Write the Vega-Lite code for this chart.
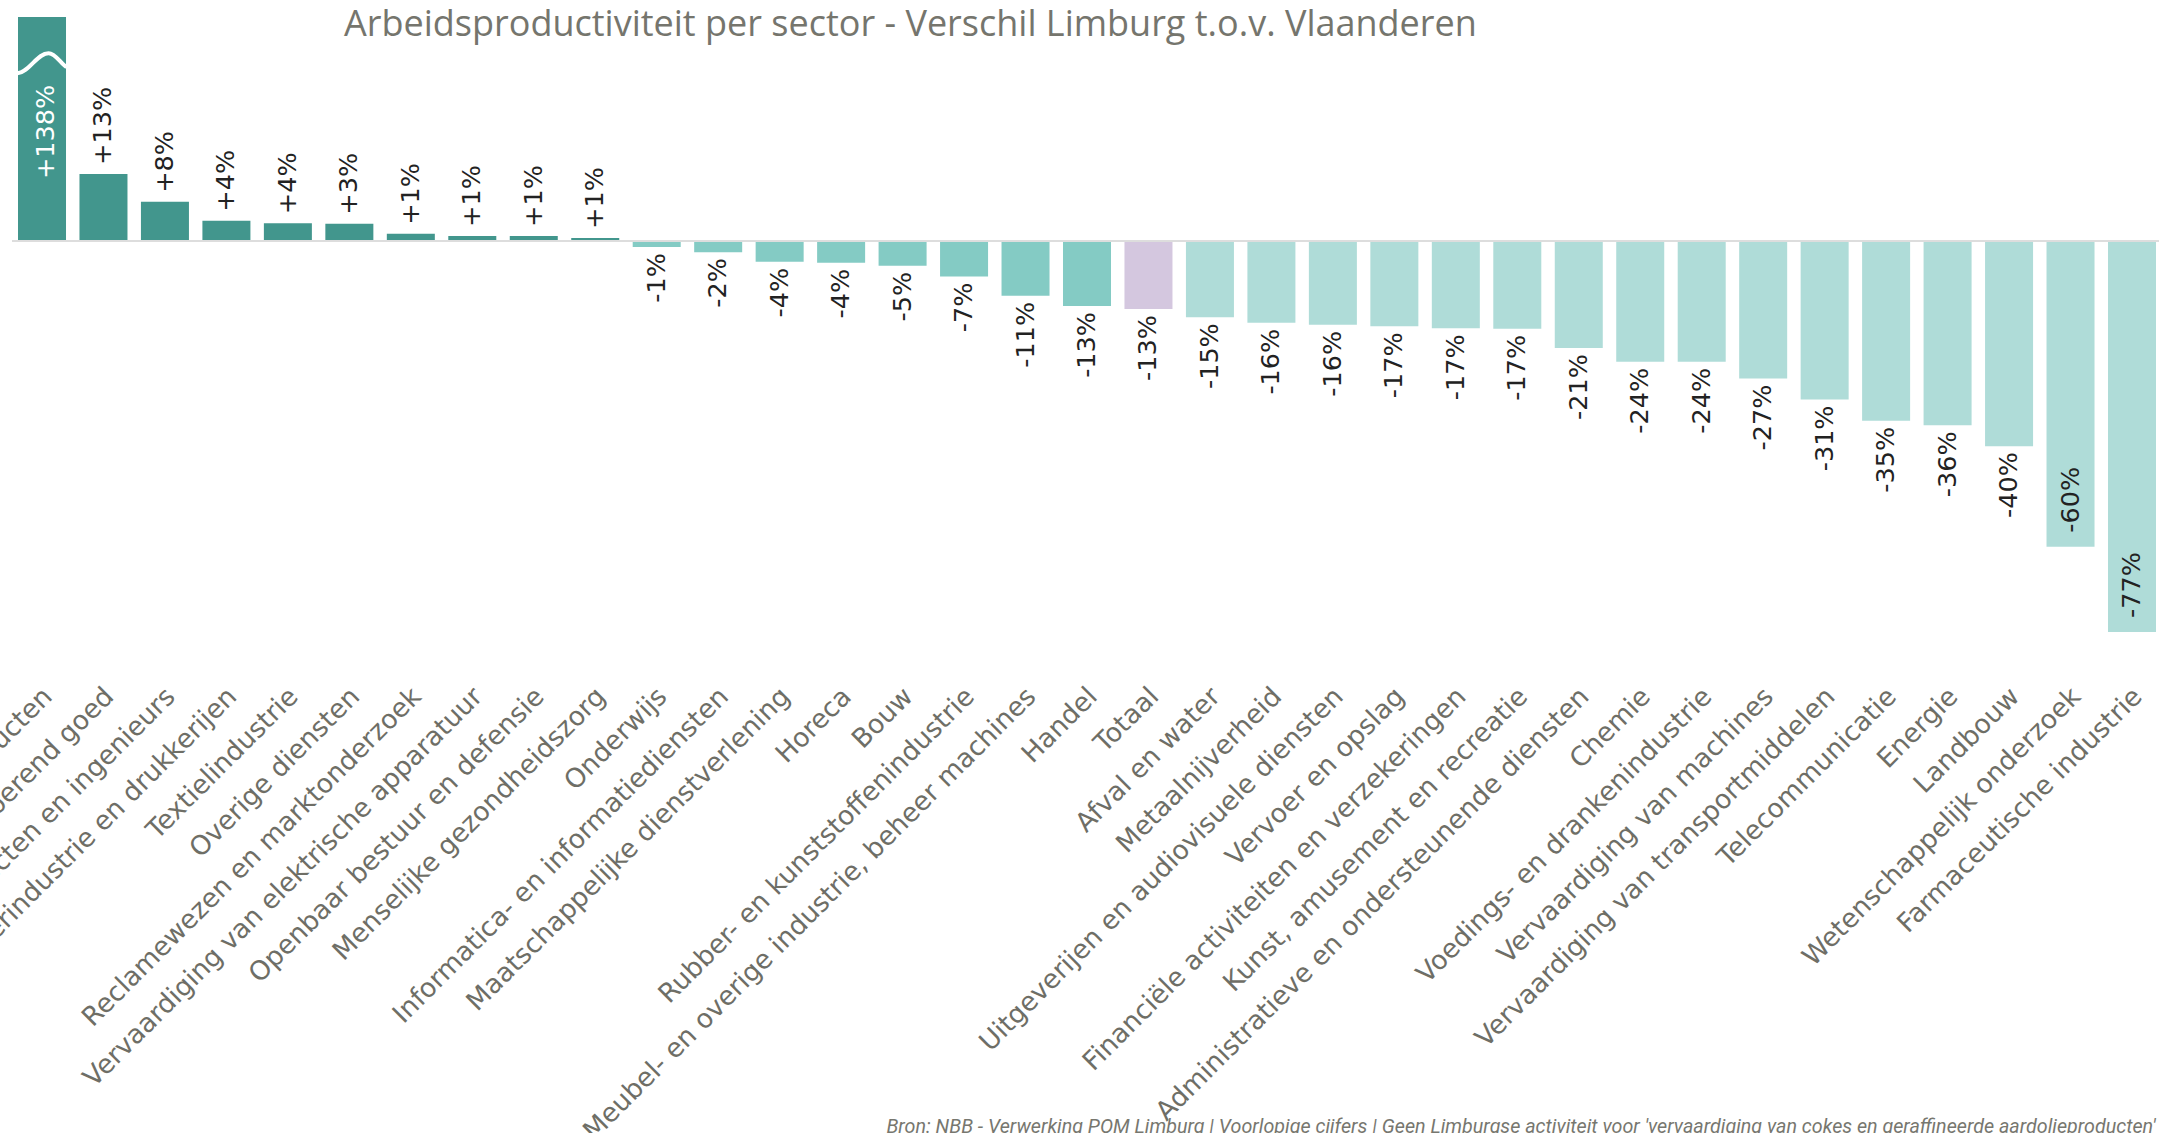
{
  "$schema": "https://vega.github.io/schema/vega-lite/v6.json",
  "width": 2150,
  "height": 615,
  "autosize": {"type": "none"},
  "padding": {"left": 12, "top": 17, "right": 0, "bottom": 501},
  "background": "white",
  "config": {"view": {"stroke": null}},
  "title": {
    "text": "Arbeidsproductiviteit per sector - Verschil Limburg t.o.v. Vlaanderen",
    "anchor": "start",
    "frame": "group",
    "dx": 332,
    "offset": -27,
    "font": "Open Sans",
    "fontSize": 36,
    "fontWeight": "normal",
    "color": "#75756d"
  },
  "data": {
    "values": [
      {"sector": "Niet-metaalhoudende minerale producten", "value": 138, "label": "+138%", "groep": "hoger"},
      {"sector": "Exploitatie van en handel in onroerend goed", "value": 13.2, "label": "+13%", "groep": "hoger"},
      {"sector": "Architecten en ingenieurs", "value": 7.7, "label": "+8%", "groep": "hoger"},
      {"sector": "Papierindustrie en drukkerijen", "value": 4.0, "label": "+4%", "groep": "hoger"},
      {"sector": "Textielindustrie", "value": 3.5, "label": "+4%", "groep": "hoger"},
      {"sector": "Overige diensten", "value": 3.4, "label": "+3%", "groep": "hoger"},
      {"sector": "Reclamewezen en marktonderzoek", "value": 1.4, "label": "+1%", "groep": "hoger"},
      {"sector": "Vervaardiging van elektrische apparatuur", "value": 1.0, "label": "+1%", "groep": "hoger"},
      {"sector": "Openbaar bestuur en defensie", "value": 1.0, "label": "+1%", "groep": "hoger"},
      {"sector": "Menselijke gezondheidszorg", "value": 0.6, "label": "+1%", "groep": "hoger"},
      {"sector": "Onderwijs", "value": -1.2, "label": "-1%", "groep": "lager"},
      {"sector": "Informatica- en informatiediensten", "value": -2.2, "label": "-2%", "groep": "lager"},
      {"sector": "Maatschappelijke dienstverlening", "value": -4.1, "label": "-4%", "groep": "lager"},
      {"sector": "Horeca", "value": -4.3, "label": "-4%", "groep": "lager"},
      {"sector": "Bouw", "value": -4.9, "label": "-5%", "groep": "lager"},
      {"sector": "Rubber- en kunststoffenindustrie", "value": -7.0, "label": "-7%", "groep": "lager"},
      {"sector": "Meubel- en overige industrie, beheer machines", "value": -10.8, "label": "-11%", "groep": "lager"},
      {"sector": "Handel", "value": -12.8, "label": "-13%", "groep": "lager"},
      {"sector": "Totaal", "value": -13.4, "label": "-13%", "groep": "totaal"},
      {"sector": "Afval en water", "value": -15.0, "label": "-15%", "groep": "veel lager"},
      {"sector": "Metaalnijverheid", "value": -16.1, "label": "-16%", "groep": "veel lager"},
      {"sector": "Uitgeverijen en audiovisuele diensten", "value": -16.5, "label": "-16%", "groep": "veel lager"},
      {"sector": "Vervoer en opslag", "value": -16.8, "label": "-17%", "groep": "veel lager"},
      {"sector": "Financiële activiteiten en verzekeringen", "value": -17.2, "label": "-17%", "groep": "veel lager"},
      {"sector": "Kunst, amusement en recreatie", "value": -17.3, "label": "-17%", "groep": "veel lager"},
      {"sector": "Administratieve en ondersteunende diensten", "value": -21.1, "label": "-21%", "groep": "veel lager"},
      {"sector": "Chemie", "value": -23.8, "label": "-24%", "groep": "veel lager"},
      {"sector": "Voedings- en drankenindustrie", "value": -23.8, "label": "-24%", "groep": "veel lager"},
      {"sector": "Vervaardiging van machines", "value": -27.1, "label": "-27%", "groep": "veel lager"},
      {"sector": "Vervaardiging van transportmiddelen", "value": -31.2, "label": "-31%", "groep": "veel lager"},
      {"sector": "Telecommunicatie", "value": -35.4, "label": "-35%", "groep": "veel lager"},
      {"sector": "Energie", "value": -36.3, "label": "-36%", "groep": "veel lager"},
      {"sector": "Landbouw", "value": -40.4, "label": "-40%", "groep": "veel lager"},
      {"sector": "Wetenschappelijk onderzoek", "value": -60.2, "label": "-60%", "groep": "veel lager"},
      {"sector": "Farmaceutische industrie", "value": -77.0, "label": "-77%", "groep": "veel lager"}
    ]
  },
  "layer": [
    {
      "mark": {"type": "bar", "clip": true},
      "encoding": {
        "x": {
          "field": "sector", "type": "nominal", "sort": null,
          "scale": {"paddingInner": 0.219, "paddingOuter": 0.0976},
          "axis": {
            "title": "Bron: NBB - Verwerking POM Limburg | Voorlopige cijfers | Geen Limburgse activiteit voor 'vervaardiging van cokes en geraffineerde aardolieproducten'",
            "labelAngle": -45,
            "labelAlign": "right",
            "labelBaseline": "middle",
            "labelFont": "DejaVu Sans",
            "labelFontSize": 26.5,
            "labelColor": "#6e6e66",
            "labelPadding": 60,
            "labelOffset": 6,
            "labelLimit": 2000,
            "labelOverlap": false,
            "labelBound": false,
            "ticks": false,
            "domain": false,
            "grid": false,
            "titleFont": "Roboto",
            "titleFontStyle": "italic",
            "titleFontSize": 19.7,
            "titleFontWeight": "normal",
            "titleColor": "#77776f",
            "titleAlign": "right",
            "titleAnchor": "end",
            "titleX": 2143,
            "titleY": 500,
            "titleBaseline": "alphabetic"
          }
        },
        "y": {"field": "value", "type": "quantitative", "scale": {"domain": [-77, 44.1], "nice": false}, "axis": null},
        "color": {
          "field": "groep", "type": "nominal",
          "scale": {"domain": ["hoger", "lager", "totaal", "veel lager"], "range": ["#42968d", "#84cbc4", "#d4c7df", "#afdcd8"]},
          "legend": null
        }
      }
    },
    {
      "data": {"values": [{}]},
      "mark": {"type": "rule", "color": "#dddddd", "strokeWidth": 2},
      "encoding": {"y": {"datum": 0}}
    },
    {
      "transform": [{"filter": "datum.value > 0 && datum.value < 40"}],
      "mark": {"type": "text", "angle": 270, "align": "left", "baseline": "middle", "dx": 9, "font": "DejaVu Sans", "fontSize": 25.5, "color": "#222222"},
      "encoding": {
        "x": {"field": "sector", "type": "nominal", "sort": null},
        "y": {"field": "value", "type": "quantitative"},
        "text": {"field": "label"}
      }
    },
    {
      "transform": [{"filter": "datum.value < 0 && datum.value > -50"}],
      "mark": {"type": "text", "angle": 270, "align": "right", "baseline": "middle", "dx": -6, "font": "DejaVu Sans", "fontSize": 25.5, "color": "#222222"},
      "encoding": {
        "x": {"field": "sector", "type": "nominal", "sort": null},
        "y": {"field": "value", "type": "quantitative"},
        "text": {"field": "label"}
      }
    },
    {
      "transform": [{"filter": "datum.value < -50"}],
      "mark": {"type": "text", "angle": 270, "align": "left", "baseline": "middle", "dx": 14, "font": "DejaVu Sans", "fontSize": 25.5, "color": "#222222"},
      "encoding": {
        "x": {"field": "sector", "type": "nominal", "sort": null},
        "y": {"field": "value", "type": "quantitative"},
        "text": {"field": "label"}
      }
    },
    {
      "transform": [{"filter": "datum.value > 40"}],
      "mark": {"type": "text", "angle": 270, "align": "left", "baseline": "middle", "dy": 4, "font": "DejaVu Sans", "fontSize": 25.5, "color": "#ffffff"},
      "encoding": {
        "x": {"field": "sector", "type": "nominal", "sort": null},
        "y": {"datum": 12.2},
        "text": {"field": "label"}
      }
    },
    {
      "transform": [{"filter": "datum.value > 40"}],
      "mark": {"type": "point", "shape": "M -1 0.41 C -0.5 0.35 -0.2 -0.41 0.27 -0.41 C 0.55 -0.41 0.75 0 1 0.16", "size": 2401, "filled": false, "stroke": "#ffffff", "strokeWidth": 4, "opacity": 1},
      "encoding": {
        "x": {"field": "sector", "type": "nominal", "sort": null},
        "y": {"datum": 35}
      }
    }
  ]
}
